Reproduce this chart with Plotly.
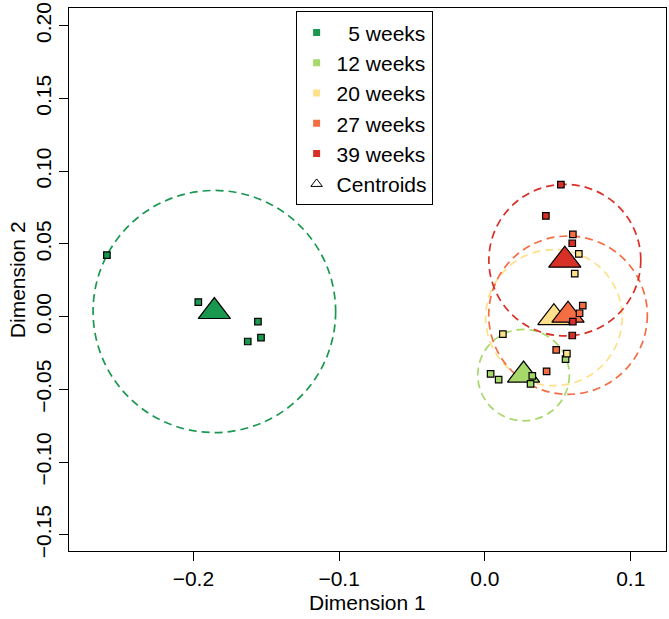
import plotly.graph_objects as go

# ---------------- data ----------------
groups = ["5 weeks", "12 weeks", "20 weeks", "27 weeks", "39 weeks"]
legend_labels = ["\u00a0\u00a05 weeks", "12 weeks", "20 weeks", "27 weeks", "39 weeks"]
colors = ["#1a9850", "#a6d96a", "#fee08b", "#f46d43", "#d73027"]

x_5w = [-0.2593, -0.1966, -0.1557, -0.1536, -0.1627]
y_5w = [0.0422, 0.0100, -0.0034, -0.0144, -0.0171]

x_12w = [0.0039, 0.0094, 0.0325, 0.0313, 0.0553]
y_12w = [-0.0394, -0.0433, -0.0408, -0.0463, -0.0292]

x_20w = [0.0644, 0.0616, 0.0123, 0.0562]
y_20w = [0.0431, 0.0296, -0.0121, -0.0255]

x_27w = [0.0603, 0.0671, 0.0649, 0.0489, 0.0423]
y_27w = [0.0565, 0.0075, 0.0023, -0.0228, -0.0376]

x_39w = [0.0521, 0.0418, 0.0599, 0.0603, 0.0599]
y_39w = [0.0907, 0.0692, 0.0504, -0.0034, -0.0130]

centroid_x = [-0.1856, 0.0265, 0.0473, 0.0570, 0.0548]
centroid_y = [0.0035, -0.0402, -0.0007, 0.0010, 0.0388]
radius = [0.0832, 0.0314, 0.0468, 0.0544, 0.0521]

x_ticks = [-0.2, -0.1, 0.0, 0.1]
y_ticks = [-0.15, -0.10, -0.05, 0.00, 0.05, 0.10, 0.15, 0.20]
x_title = "Dimension 1"
y_title = "Dimension 2"

xs = [x_5w, x_12w, x_20w, x_27w, x_39w]
ys = [y_5w, y_12w, y_20w, y_27w, y_39w]

FONT = "Liberation Sans, Arial, Helvetica, sans-serif"

fig = go.Figure()

# dashed dispersion circles around centroids
for cx, cy, r, c in zip(centroid_x, centroid_y, radius, colors):
    fig.add_shape(type="circle", xref="x", yref="y",
                  x0=cx - r, x1=cx + r, y0=cy - r, y1=cy + r,
                  line=dict(color=c, width=1.7, dash="8px,5px"),
                  layer="below")

# centroids (triangles)
for i, c in enumerate(colors):
    fig.add_trace(go.Scatter(
        x=[centroid_x[i]], y=[centroid_y[i]], mode="markers",
        marker=dict(symbol="triangle-up", size=28, color=c,
                    line=dict(color="black", width=1.2)),
        showlegend=False, hoverinfo="skip"))

# samples (squares)
for i, c in enumerate(colors):
    fig.add_trace(go.Scatter(
        x=xs[i], y=ys[i], mode="markers",
        marker=dict(symbol="square", size=6.5, color=c,
                    line=dict(color="black", width=1.2)),
        showlegend=False, name=groups[i]))

# legend entries
for lab, c in zip(legend_labels, colors):
    fig.add_trace(go.Scatter(
        x=[None], y=[None], mode="markers", name=lab,
        marker=dict(symbol="square", size=7, color=c)))
fig.add_trace(go.Scatter(
    x=[None], y=[None], mode="markers", name="Centroids",
    marker=dict(symbol="triangle-up-open", size=10, color="black",
                line=dict(width=1))))

axis_common = dict(
    showgrid=False, zeroline=False, showline=True, mirror=True,
    linecolor="black", linewidth=1, ticks="outside", ticklen=9,
    tickcolor="black", tickwidth=1, ticklabeloverflow="allow",
    tickfont=dict(family=FONT, size=21, color="black"),
)

fig.update_layout(
    width=669, height=619,
    margin=dict(l=69, r=2, t=5, b=68),
    paper_bgcolor="white", plot_bgcolor="white",
    font=dict(family=FONT, size=21, color="black"),
    xaxis=dict(range=[-0.2853, 0.1242], tickvals=x_ticks, tickformat=".1f",
               **axis_common),
    yaxis=dict(range=[-0.1611, 0.2121], tickvals=y_ticks, tickformat=".2f",
               tickangle=-90, **axis_common),
    legend=dict(x=0.3796, y=0.994, xanchor="left", yanchor="top",
                bordercolor="black", borderwidth=1, bgcolor="white",
                font=dict(family=FONT, size=21, color="black"),
                tracegroupgap=0, itemsizing="trace"),
    showlegend=True,
    annotations=[
        dict(text=x_title, xref="paper", yref="paper", x=0.5, y=-0.094,
             xanchor="center", yanchor="middle", showarrow=False,
             font=dict(family=FONT, size=21, color="black")),
        dict(text=y_title, xref="paper", yref="paper", x=-0.086, y=0.5,
             xanchor="center", yanchor="middle", showarrow=False,
             textangle=-90,
             font=dict(family=FONT, size=21, color="black")),
    ],
)

fig.write_html("out.html",
               config={"displayModeBar": False},
               post_script="document.body.style.margin='0';"
                           "document.body.style.overflow='hidden';")
